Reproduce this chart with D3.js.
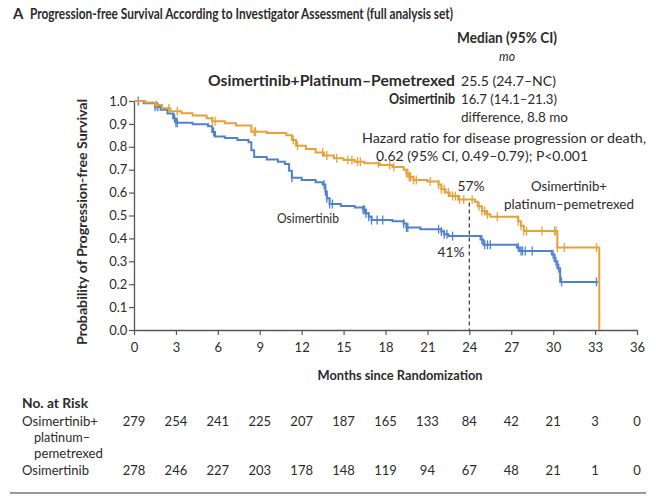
<!DOCTYPE html>
<html>
<head>
<meta charset="utf-8">
<script src="https://cdn.jsdelivr.net/npm/d3@7"></script>
<style>
  html, body { margin: 0; padding: 0; background: #fff; }
  svg { display: block; }
  text { font-family: Lato, "Open Sans", sans-serif; fill: #2b2b2b; }
</style>
</head>
<body>
<svg id="chart" width="656" height="499"></svg>
<script>
// Kaplan–Meier step points: [month, probability after the drop]
const comboSteps = [
  [0, 1.0], [0.8, 0.993], [1.5, 0.982], [2.0, 0.968], [2.6, 0.955], [3.4, 0.946],
  [4.2, 0.937], [5.2, 0.925], [5.6, 0.912], [6.5, 0.903], [7.3, 0.893], [8.4, 0.866],
  [9.5, 0.86], [10.9, 0.85], [11.3, 0.83], [11.6, 0.805], [12.3, 0.79], [13.0, 0.775],
  [13.6, 0.762], [14.3, 0.75], [15.0, 0.742], [15.8, 0.735], [16.5, 0.728], [17.6, 0.72],
  [18.5, 0.712], [19.3, 0.70], [19.5, 0.685], [19.7, 0.668], [20.0, 0.655], [21.0, 0.648],
  [21.8, 0.635], [22.0, 0.615], [22.3, 0.60], [22.6, 0.585], [23.2, 0.57], [24.4, 0.56],
  [24.6, 0.54], [24.9, 0.52], [25.2, 0.505], [25.5, 0.495], [27.5, 0.475], [27.7, 0.455],
  [27.9, 0.432], [30.3, 0.36], [33.3, 0.0]
];
const osiSteps = [
  [0, 1.0], [0.7, 0.99], [1.5, 0.975], [1.9, 0.962], [2.4, 0.945], [2.8, 0.925],
  [3.0, 0.905], [4.2, 0.898], [5.3, 0.89], [5.6, 0.865], [5.8, 0.845], [6.5, 0.838],
  [7.4, 0.83], [8.2, 0.82], [8.4, 0.785], [8.6, 0.755], [9.5, 0.745], [10.3, 0.735],
  [10.8, 0.725], [11.1, 0.695], [11.3, 0.665], [12.0, 0.655], [13.0, 0.645], [13.5, 0.635],
  [13.7, 0.605], [13.8, 0.575], [14.0, 0.55], [14.8, 0.542], [15.8, 0.535], [16.4, 0.525],
  [16.6, 0.51], [16.8, 0.495], [17.0, 0.48], [18.5, 0.475], [19.3, 0.465], [19.5, 0.448],
  [20.5, 0.44], [22.0, 0.43], [22.2, 0.418], [22.5, 0.41], [24.8, 0.395], [25.0, 0.372],
  [27.4, 0.36], [27.6, 0.345], [29.9, 0.33], [30.1, 0.30], [30.3, 0.27], [30.5, 0.21]
];
const osiEnd = 33.2;

// Censoring times (months)
const comboCensored = [1.6, 2.5, 3.1, 5.6, 5.8, 8.6, 8.7, 11.4, 11.7, 13.5, 13.8, 14.5, 15.3,
  15.6, 16.0, 16.2, 17.5, 18.3, 18.6, 19.5, 19.6, 19.7, 19.8, 20.0, 20.2, 21.2, 21.8, 22.0,
  22.2, 22.5, 22.8, 23.0, 23.3, 23.6, 24.2, 24.7, 24.9, 25.1, 25.3, 26.0, 27.5, 27.7, 27.9,
  28.1, 29.2, 30.1, 30.2, 30.3, 30.8, 33.1];
const osiCensored = [0.3, 1.5, 1.7, 2.9, 3.0, 3.1, 5.7, 11.3, 13.6, 13.7, 13.8, 14.0, 14.2,
  16.4, 16.5, 16.6, 16.8, 17.0, 17.4, 17.8, 19.3, 19.5, 19.6, 21.8, 22.0, 22.2, 22.4, 22.8,
  24.9, 25.1, 25.3, 25.5, 27.5, 27.7, 27.8, 28.0, 28.5, 30.0, 30.2, 30.4, 30.6, 33.1];

const xTicks = [0, 3, 6, 9, 12, 15, 18, 21, 24, 27, 30, 33, 36];
const yTicks = [0, 0.1, 0.2, 0.3, 0.4, 0.5, 0.6, 0.7, 0.8, 0.9, 1.0];

const riskMonths = [0, 3, 6, 9, 12, 15, 18, 21, 24, 27, 30, 33, 36];
const comboAtRisk = [279, 254, 241, 225, 207, 187, 165, 133, 84, 42, 21, 3, 0];
const osiAtRisk = [278, 246, 227, 203, 178, 148, 119, 94, 67, 48, 21, 1, 0];

const landmark = { month: 24, combo: 0.57, osi: 0.41 };

const ORANGE = "#e6a23a";
const BLUE = "#4f82cc";
const AXIS = "#555";

const svg = d3.select("#chart");
const x = d3.scaleLinear().domain([0, 36]).range([134, 637]);
const y = d3.scaleLinear().domain([0, 1]).range([330, 101]);

// Text helper: condensed setting fitted to a given run length
function label(px, py, str, opts = {}) {
  const t = svg.append("text").attr("x", px).attr("y", py)
    .attr("font-size", opts.size || 13)
    .attr("text-anchor", opts.anchor || "start")
    .text(str);
  if (opts.bold) t.attr("font-weight", 700);
  if (opts.italic) t.attr("font-style", "italic");
  if (opts.width) t.attr("textLength", opts.width).attr("lengthAdjust", "spacingAndGlyphs");
  if (opts.transform) t.attr("transform", opts.transform);
  return t;
}

// Title
label(13, 19, "A", { size: 15, bold: true });
label(30, 19, "Progression-free Survival According to Investigator Assessment (full analysis set)",
  { size: 15, bold: true, width: 423 });

// Axes
const xAxis = d3.axisBottom(x).tickValues(xTicks).tickSize(5).tickSizeOuter(0).tickFormat(d3.format("d"));
const yAxis = d3.axisLeft(y).tickValues(yTicks).tickSize(5).tickSizeOuter(0).tickFormat(d3.format(".1f"));

const gx = svg.append("g").attr("transform", "translate(0,330)").call(xAxis);
const gy = svg.append("g").attr("transform", "translate(134,0)").call(yAxis);
[gx, gy].forEach(g => {
  g.select(".domain").attr("stroke", AXIS).attr("stroke-width", 1.3);
  g.selectAll(".tick line").attr("stroke", AXIS).attr("stroke-width", 1.2);
  g.selectAll(".tick text").attr("font-size", 13).attr("fill", "#333")
    .attr("font-family", "Lato, sans-serif");
});
gx.selectAll(".tick text").attr("dy", "1.05em");
gy.selectAll(".tick text").attr("dx", "0.1em");

label(0, 0, "Probability of Progression-free Survival",
  { size: 14, bold: true, anchor: "middle", width: 246, transform: "translate(87,222) rotate(-90)" });
label(400, 380, "Months since Randomization", { size: 14, bold: true, anchor: "middle", width: 165 });

// Landmark at 24 months
svg.append("line").attr("x1", x(landmark.month)).attr("x2", x(landmark.month))
  .attr("y1", y(landmark.combo) + 3).attr("y2", y(0))
  .attr("stroke", "#444").attr("stroke-width", 1.3).attr("stroke-dasharray", "4,3");

// Survival curves
function stepPath(steps, end) {
  const pts = steps.map(d => [d[0], d[1]]);
  if (end !== undefined) pts.push([end, steps[steps.length - 1][1]]);
  return d3.line().x(d => x(d[0])).y(d => y(d[1])).curve(d3.curveStepAfter)(pts);
}
function survAt(steps, t) {
  let s = steps[0][1];
  for (const d of steps) { if (d[0] <= t) s = d[1]; else break; }
  return s;
}
function drawCurve(steps, end, censored, color) {
  svg.append("path").attr("d", stepPath(steps, end)).attr("fill", "none")
    .attr("stroke", color).attr("stroke-width", 2);
  svg.append("g").selectAll("line").data(censored).join("line")
    .attr("x1", d => x(d)).attr("x2", d => x(d))
    .attr("y1", d => y(survAt(steps, d)) - 4.5).attr("y2", d => y(survAt(steps, d)) + 4.5)
    .attr("stroke", color).attr("stroke-width", 1.3);
}
drawCurve(osiSteps, osiEnd, osiCensored, BLUE);
drawCurve(comboSteps, undefined, comboCensored, ORANGE);

// Curve labels
label(471, 191, d3.format(".0%")(landmark.combo), { anchor: "middle", width: 27 });
label(451, 257, d3.format(".0%")(landmark.osi), { anchor: "middle", width: 27 });
label(569, 191, "Osimertinib+", { anchor: "middle", width: 76 });
label(569, 209, "platinum–pemetrexed", { anchor: "middle", width: 130 });
label(308, 223, "Osimertinib", { anchor: "middle", width: 62 });

// Median summary
label(457, 43, "Median (95% CI)", { size: 15, bold: true, width: 100 });
label(507, 61, "mo", { italic: true, anchor: "middle", width: 16 });
label(455, 86, "Osimertinib+Platinum–Pemetrexed", { size: 15, bold: true, anchor: "end", width: 247 });
label(461, 86, "25.5 (24.7–NC)", { width: 95 });
label(455, 104, "Osimertinib", { size: 15, bold: true, anchor: "end", width: 66 });
label(461, 104, "16.7 (14.1–21.3)", { width: 96 });
label(461, 122, "difference, 8.8 mo", { width: 107 });
label(362, 143, "Hazard ratio for disease progression or death,", { width: 284 });
label(376, 161, "0.62 (95% CI, 0.49–0.79); P<0.001", { width: 212 });

// Number at risk
label(22, 408, "No. at Risk", { size: 14, bold: true, width: 66 });
label(22, 426, "Osimertinib+", { width: 76 });
label(34, 442, "platinum–", { width: 56 });
label(34, 458, "pemetrexed", { width: 69 });
label(22, 475, "Osimertinib", { width: 67 });

svg.append("g").selectAll("text").data(comboAtRisk).join("text")
  .attr("x", (d, i) => x(riskMonths[i])).attr("y", 426).attr("text-anchor", "middle")
  .attr("font-size", 13).text(d => d);
svg.append("g").selectAll("text").data(osiAtRisk).join("text")
  .attr("x", (d, i) => x(riskMonths[i])).attr("y", 475).attr("text-anchor", "middle")
  .attr("font-size", 13).text(d => d);

svg.append("line").attr("x1", 10).attr("x2", 646).attr("y1", 493).attr("y2", 493)
  .attr("stroke", "#999").attr("stroke-width", 2);
</script>
</body>
</html>
